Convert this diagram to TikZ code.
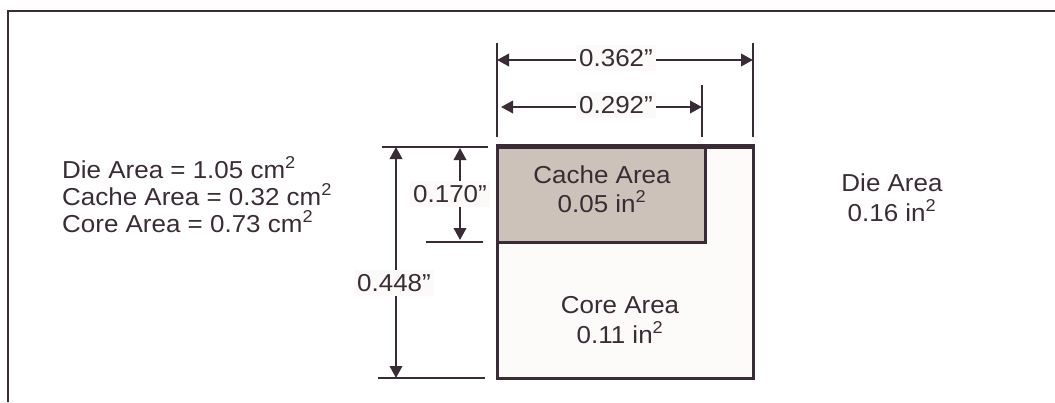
\documentclass[tikz,border=0pt]{standalone}
\usepackage{fontspec}
\setmainfont{Liberation Sans}[FakeStretch=1.06]
\usetikzlibrary{arrows.meta}
\definecolor{ink}{HTML}{3A2C36}
\definecolor{cachefill}{HTML}{CDC2B9}
\definecolor{diefill}{HTML}{FCFBFA}
\definecolor{labfill}{HTML}{FBFAF8}
\tikzset{
  txt/.style={font=\fontsize{24.5}{27}\selectfont, text=ink, inner sep=0pt, align=center},
  dimlabel/.style={txt, fill=labfill, inner xsep=3pt, inner ysep=4pt},
  extline/.style={draw=ink, line width=2pt},
  dimarrow/.style={draw=ink, line width=2pt, {Triangle[length=12pt,width=12.5pt]}-{Triangle[length=12pt,width=12.5pt]}},
  box/.style={draw=ink, line width=3pt, inner sep=0pt},
}
\begin{document}
\begin{tikzpicture}[x=1pt,y=-1pt]
\useasboundingbox (0,0) rectangle (1055,402);
% frame
\coordinate (fa) at (8,402);
\coordinate (fb) at (8,11);
\coordinate (fc) at (1055,11);
\draw[ink, line width=2pt] (fa) -- (fb) -- (fc);
% die and cache rectangles
\node[box, fill=diefill, minimum width=256pt, minimum height=231pt] (die) at (625,262.5) {};
\node[box, fill=cachefill, minimum width=208pt, minimum height=95pt] (cache) at (601,194.5) {};
\draw[ink, line width=3pt] (die.north west) -- (die.north east);
% texts
\node[txt, anchor=base west] (l1) at (62,178) {Die Area = 1.05 cm\textsuperscript{2}};
\node[txt, anchor=base west] (l2) at (62,205) {Cache Area = 0.32 cm\textsuperscript{2}};
\node[txt, anchor=base west] (l3) at (62,232) {Core Area = 0.73 cm\textsuperscript{2}};
\node[txt, anchor=base] (c1) at (602,183) {Cache Area};
\node[txt, anchor=base] (c2) at (602,212) {0.05 in\textsuperscript{2}};
\node[txt, anchor=base] (r1) at (892,191) {Die Area};
\node[txt, anchor=base] (r2) at (892,221) {0.16 in\textsuperscript{2}};
\node[txt, anchor=base] (k1) at (620,313) {Core Area};
\node[txt, anchor=base] (k2) at (620,343) {0.11 in\textsuperscript{2}};
% horizontal dimension extension lines
\coordinate (e1a) at (497,43); \coordinate (e1b) at (497,137);
\coordinate (e2a) at (753,43); \coordinate (e2b) at (753,137);
\coordinate (e3a) at (702,85); \coordinate (e3b) at (702,137);
\draw[extline] (e1a) -- (e1b);
\draw[extline] (e2a) -- (e2b);
\draw[extline] (e3a) -- (e3b);
\coordinate (w1a) at (497,60); \coordinate (w1b) at (753,60);
\coordinate (w2a) at (501,107); \coordinate (w2b) at (702,107);
\draw[dimarrow] (w1a) -- (w1b);
\draw[dimarrow] (w2a) -- (w2b);
\node[dimlabel] (d362) at (616,58) {0.362''};
\node[dimlabel] (d292) at (616,105) {0.292''};
% vertical dimension extension lines
\coordinate (h1a) at (382,147); \coordinate (h1b) at (488,147);
\coordinate (h2a) at (426,242); \coordinate (h2b) at (483,242);
\coordinate (h3a) at (378,378); \coordinate (h3b) at (485,378);
\draw[extline, line width=2.5pt] (h1a) -- (h1b);
\draw[extline, line width=2.5pt] (h2a) -- (h2b);
\draw[extline, line width=2.5pt] (h3a) -- (h3b);
\coordinate (v1a) at (396,147); \coordinate (v1b) at (396,378);
\coordinate (v2a) at (460,148); \coordinate (v2b) at (460,240);
\draw[dimarrow] (v1a) -- (v1b);
\draw[dimarrow] (v2a) -- (v2b);
\node[dimlabel] (d170) at (450,194) {0.170''};
\node[dimlabel] (d448) at (394,283) {0.448''};
\end{tikzpicture}
\end{document}
